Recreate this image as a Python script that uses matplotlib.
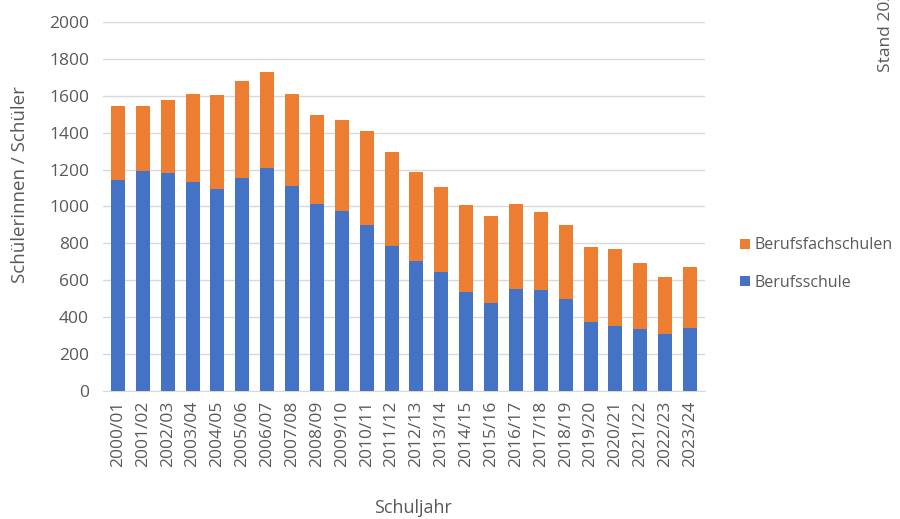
import numpy as np
import matplotlib.pyplot as plt

plt.rcParams['font.family'] = ['Open Sans', 'DejaVu Sans']

years = ['2000/01', '2001/02', '2002/03', '2003/04', '2004/05', '2005/06', '2006/07',
         '2007/08', '2008/09', '2009/10', '2010/11', '2011/12', '2012/13', '2013/14',
         '2014/15', '2015/16', '2016/17', '2017/18', '2018/19', '2019/20', '2020/21',
         '2021/22', '2022/23', '2023/24']
berufsschule = [1144, 1192, 1183, 1133, 1093, 1154, 1207, 1111, 1014, 977, 898, 787,
                705, 647, 535, 475, 551, 546, 500, 376, 354, 334, 307, 340]
gesamt = [1547, 1546, 1577, 1610, 1606, 1678, 1731, 1610, 1498, 1469, 1411, 1297,
          1185, 1108, 1008, 946, 1014, 970, 900, 782, 770, 692, 616, 674]
berufsfachschulen = [g - b for g, b in zip(gesamt, berufsschule)]

grey = '#595959'
fig = plt.figure(figsize=(9, 5.19), dpi=100)
ax = fig.add_axes([103/900, 1 - 391/519, 602/900, 369/519])

x = np.arange(len(years))
b1 = ax.bar(x, berufsschule, 0.56, color='#4472C4', label='Berufsschule', zorder=3)
b2 = ax.bar(x, berufsfachschulen, 0.56, bottom=berufsschule, color='#ED7D31',
            label='Berufsfachschulen', zorder=3)

ax.set_ylim(0, 2000)
ax.set_xlim(-0.6, len(years) - 0.4)
ax.set_yticks(range(0, 2001, 200))
ax.set_xticks(x)
ax.set_xticklabels(years, rotation=90)
ax.grid(axis='y', color='#d9d9d9', lw=1, zorder=0)
for s in ['top', 'right', 'left']:
    ax.spines[s].set_visible(False)
ax.spines['bottom'].set_color('#d9d9d9')
ax.tick_params(length=0, colors=grey, labelsize=12.5)
ax.tick_params(axis='y', pad=10)
ax.tick_params(axis='x', pad=7)

fig.text(20/900, 1 - 185/519, 'Schülerinnen / Schüler', color=grey, fontsize=13.5,
         rotation=90, ha='center', va='center')
fig.text(413/900, 1 - 508/519, 'Schuljahr', color=grey, fontsize=13,
         ha='center', va='center')

ax.legend(handles=[b2, b1], loc='center left', bbox_to_anchor=(1.035, 0.344),
          frameon=False, fontsize=11.5, labelcolor=grey, handlelength=0.6,
          handleheight=0.6, handletextpad=0.3, labelspacing=1.35)

fig.text(886/900, 1 - 72/519, 'Stand 2024', color=grey, fontsize=12.5,
         rotation=90, ha='center', va='bottom')

fig.savefig('out.png', dpi=100)
